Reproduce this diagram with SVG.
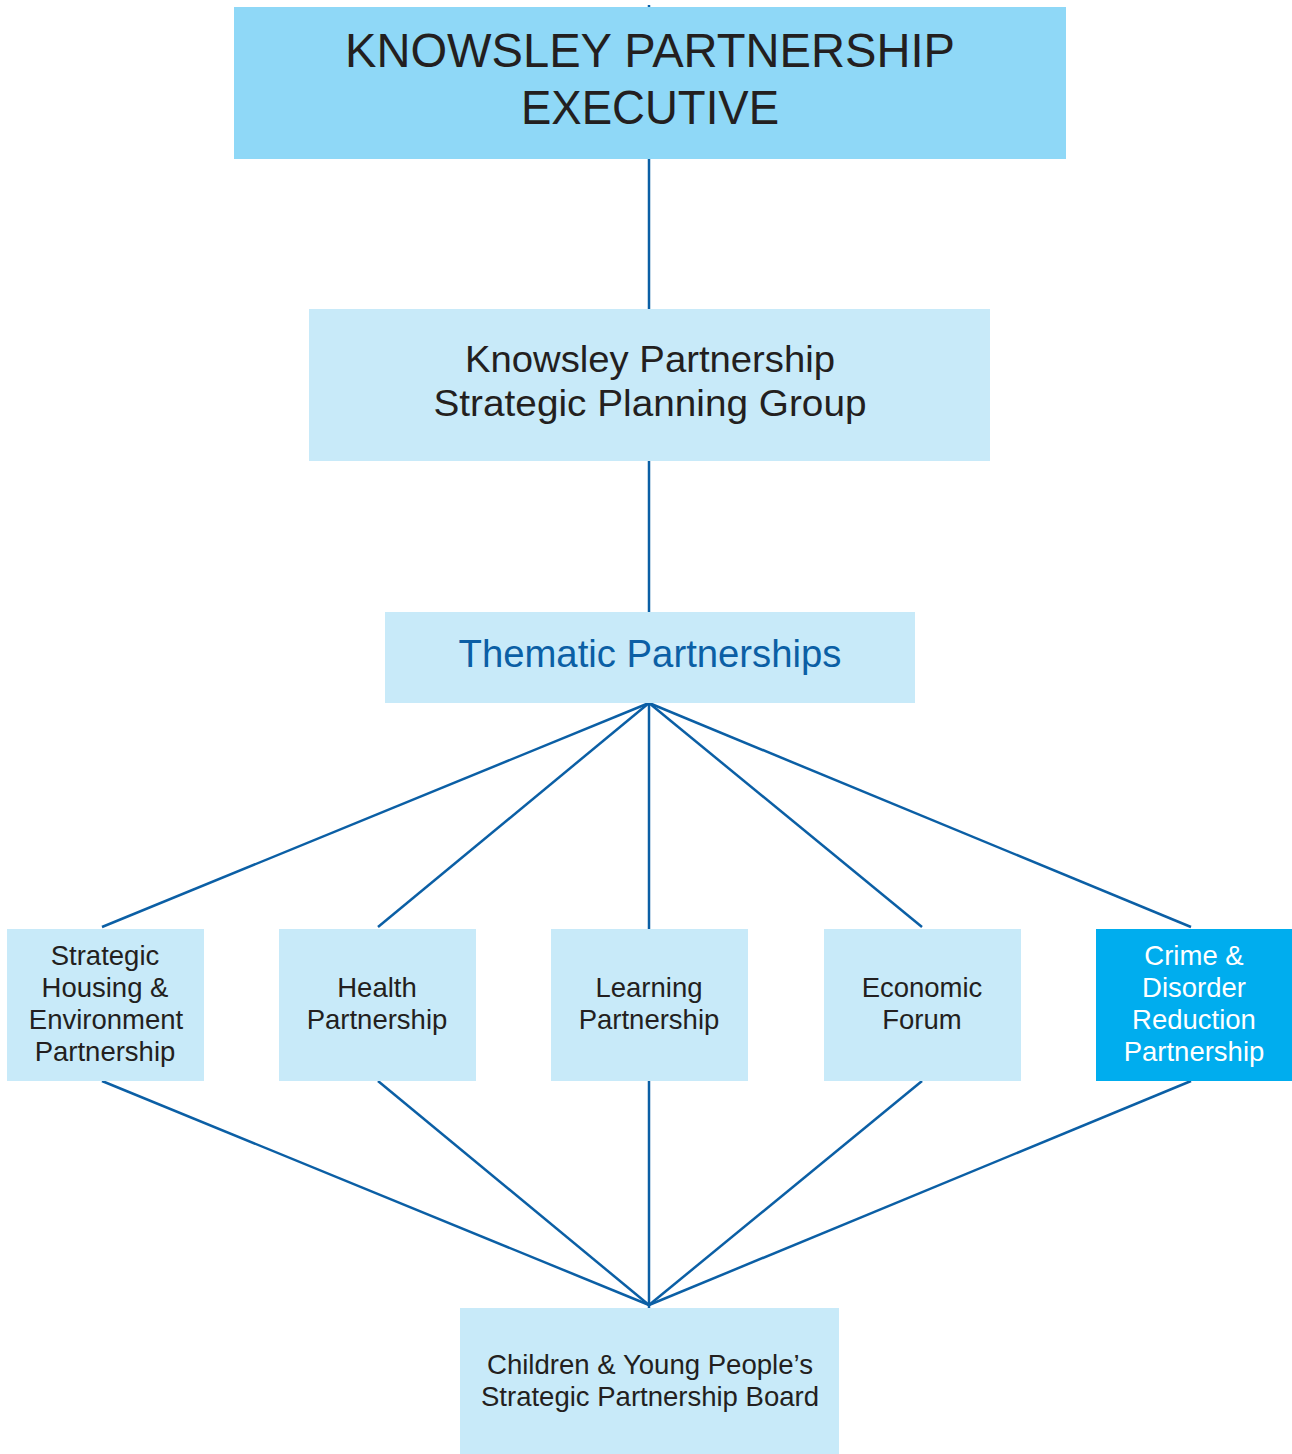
<svg xmlns="http://www.w3.org/2000/svg" width="1292" height="1454" viewBox="0 0 1292 1454">
  <style>
    .box { fill: #c8eaf9; }
    .exec { fill: #8fd8f7; }
    .crime { fill: #00adee; }
    .lbl { font-family: "Liberation Sans", Arial, sans-serif; fill: #231f20; text-anchor: middle; }
    .small { font-size: 27.5px; }
    .link { stroke: #0b5fa5; stroke-width: 2.5; fill: none; }
  </style>
  <rect width="1292" height="1454" fill="#ffffff"/>

  <!-- connectors -->
  <g id="connectors" class="link">
    <line x1="649" y1="5" x2="649" y2="612"/>
    <line x1="649" y1="703" x2="102" y2="927"/>
    <line x1="649" y1="703" x2="378" y2="927"/>
    <line x1="649" y1="703" x2="649" y2="929"/>
    <line x1="649" y1="703" x2="922" y2="927"/>
    <line x1="649" y1="703" x2="1191" y2="927"/>
    <line x1="102" y1="1081" x2="649" y2="1305"/>
    <line x1="378" y1="1081" x2="649" y2="1305"/>
    <line x1="649" y1="1081" x2="649" y2="1308"/>
    <line x1="922" y1="1081" x2="649" y2="1305"/>
    <line x1="1191" y1="1081" x2="649" y2="1305"/>
  </g>

  <g id="executive">
    <rect class="exec" x="234" y="7" width="832" height="152"/>
    <text class="lbl" x="650" y="67" font-size="48" textLength="610" lengthAdjust="spacingAndGlyphs">KNOWSLEY PARTNERSHIP</text>
    <text class="lbl" x="650" y="124" font-size="48" textLength="258" lengthAdjust="spacingAndGlyphs">EXECUTIVE</text>
  </g>

  <g id="planning-group">
    <rect class="box" x="309" y="309" width="681" height="152"/>
    <text class="lbl" x="650" y="372" font-size="37" textLength="370" lengthAdjust="spacingAndGlyphs">Knowsley Partnership</text>
    <text class="lbl" x="650" y="416" font-size="37" textLength="433" lengthAdjust="spacingAndGlyphs">Strategic Planning Group</text>
  </g>

  <g id="thematic">
    <rect class="box" x="385" y="612" width="530" height="91"/>
    <text class="lbl" x="650" y="667" font-size="38" textLength="383" lengthAdjust="spacingAndGlyphs" style="fill:#0b5fa5">Thematic Partnerships</text>
  </g>

  <g id="housing">
    <rect class="box" x="7" y="929" width="197" height="152"/>
    <text class="lbl small" x="105" y="965">Strategic</text>
    <text class="lbl small" x="105" y="997">Housing &amp;</text>
    <text class="lbl small" x="106" y="1029">Environment</text>
    <text class="lbl small" x="105" y="1061">Partnership</text>
  </g>

  <g id="health">
    <rect class="box" x="279" y="929" width="197" height="152"/>
    <text class="lbl small" x="377" y="997">Health</text>
    <text class="lbl small" x="377" y="1029">Partnership</text>
  </g>

  <g id="learning">
    <rect class="box" x="551" y="929" width="197" height="152"/>
    <text class="lbl small" x="649" y="997">Learning</text>
    <text class="lbl small" x="649" y="1029">Partnership</text>
  </g>

  <g id="economic">
    <rect class="box" x="824" y="929" width="197" height="152"/>
    <text class="lbl small" x="922" y="997">Economic</text>
    <text class="lbl small" x="922" y="1029">Forum</text>
  </g>

  <g id="crime">
    <rect class="crime" x="1096" y="929" width="196" height="152"/>
    <text class="lbl small" x="1194" y="965" style="fill:#ffffff">Crime &amp;</text>
    <text class="lbl small" x="1194" y="997" style="fill:#ffffff">Disorder</text>
    <text class="lbl small" x="1194" y="1029" style="fill:#ffffff">Reduction</text>
    <text class="lbl small" x="1194" y="1061" style="fill:#ffffff">Partnership</text>
  </g>

  <g id="children">
    <rect class="box" x="460" y="1308" width="379" height="146"/>
    <text class="lbl small" x="650" y="1374" textLength="326" lengthAdjust="spacingAndGlyphs">Children &amp; Young People’s</text>
    <text class="lbl small" x="650" y="1406" textLength="338" lengthAdjust="spacingAndGlyphs">Strategic Partnership Board</text>
  </g>
</svg>
